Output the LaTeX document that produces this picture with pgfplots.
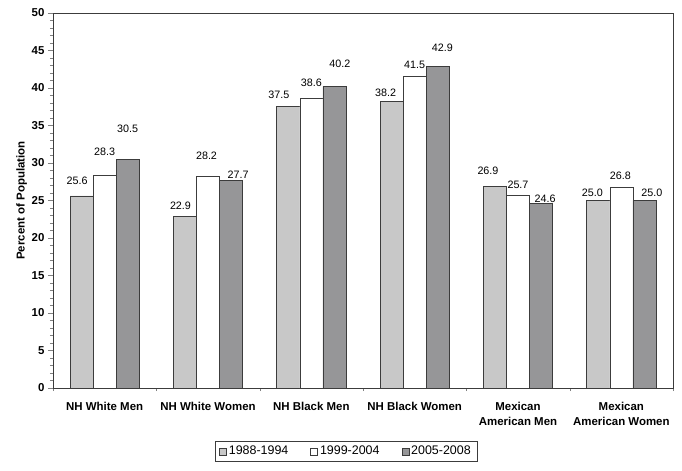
\documentclass[border=0pt]{standalone}
\usepackage{pgfplots}
\pgfplotsset{compat=1.18}
\usetikzlibrary{calc}
\usepackage{fontspec}
\setmainfont{Liberation Sans}
\definecolor{lightbar}{RGB}{200,200,200}
\definecolor{darkbar}{RGB}{150,150,152}
\definecolor{edge}{RGB}{60,60,60}
\begin{document}
\begin{tikzpicture}
  \begin{axis}[
      ybar=0pt,
      scale only axis,
      width=620bp,
      height=375bp,
      bar width=0.223,
      xmin=-0.5, xmax=5.5,
      ymin=0, ymax=50,
      xtick={0,...,5},
      xticklabels={NH White Men, NH White Women, NH Black Men, NH Black Women, Mexican\\American Men, Mexican\\American Women},
      xticklabel style={font=\bfseries\fontsize{11.5}{14.5}\selectfont, align=center, yshift=-6bp},
      major x tick style={draw=none},
      minor xtick={-0.5,0.5,...,5.5},
      ytick={0,5,...,50},
      minor y tick num=4,
      yticklabel style={font=\bfseries\fontsize{11.5}{13}\selectfont},
      /pgf/number format/assume math mode=true,
      tick align=outside,
      xtick pos=bottom, ytick pos=left,
      major tick length=5bp, minor tick length=3bp,
      tick style={gray},
      axis line style={edge},
      ylabel={Percent of Population},
      ylabel style={font=\bfseries\fontsize{11.5}{13}\selectfont, yshift=-2bp},
      nodes near coords,
      nodes near coords style={font=\fontsize{10.8}{12}\selectfont, /pgf/number format/fixed, /pgf/number format/fixed zerofill, /pgf/number format/precision=1, /pgf/number format/assume math mode=true},
      legend style={at={(0.5,-0.169)}, anchor=center, xshift=-17bp, legend columns=-1, draw=edge, font=\fontsize{12.5}{14}\selectfont, inner ysep=3bp, inner xsep=4bp, /tikz/every even column/.append style={column sep=20bp}},
      legend image code/.code={\draw[#1] (0bp,-3.5bp) rectangle (7bp,3.5bp);},
      every axis plot/.append style={draw=edge, line width=0.6pt},
    ]
    \addplot[fill=lightbar,
      coordinate style/.condition={x==0}{xshift=-4.5pt, yshift=7.5pt},
      coordinate style/.condition={x==1}{xshift=-4.5pt, yshift=3.5pt},
      coordinate style/.condition={x==2}{xshift=-9.5pt, yshift=4.5pt},
      coordinate style/.condition={x==3}{xshift=-6pt, yshift=1.5pt},
      coordinate style/.condition={x==4}{xshift=-7pt, yshift=8.5pt},
      coordinate style/.condition={x==5}{xshift=-6pt, yshift=-0.2pt},
    ] coordinates {(0,25.6) (1,22.9) (2,37.5) (3,38.2) (4,26.9) (5,25.0)};
    \addplot[fill=white,
      coordinate style/.condition={x==0}{yshift=16.5pt},
      coordinate style/.condition={x==1}{xshift=-1.5pt, yshift=13.5pt},
      coordinate style/.condition={x==2}{yshift=8.5pt},
      coordinate style/.condition={x==3}{yshift=4.5pt},
      coordinate style/.condition={x==4}{yshift=3.2pt},
      coordinate style/.condition={x==5}{xshift=-1pt, yshift=4.2pt},
    ] coordinates {(0,28.3) (1,28.2) (2,38.6) (3,41.5) (4,25.7) (5,26.8)};
    \addplot[fill=darkbar,
      coordinate style/.condition={x==0}{yshift=23.5pt},
      coordinate style/.condition={x==1}{xshift=7pt, yshift=-1.5pt},
      coordinate style/.condition={x==2}{xshift=5.5pt, yshift=15.5pt},
      coordinate style/.condition={x==3}{xshift=4.7pt, yshift=11.5pt},
      coordinate style/.condition={x==4}{xshift=4pt, yshift=-2.5pt},
      coordinate style/.condition={x==5}{xshift=7.5pt, yshift=-0.2pt},
    ] coordinates {(0,30.5) (1,27.7) (2,40.2) (3,42.9) (4,24.6) (5,25.0)};
    \legend{1988-1994, 1999-2004, 2005-2008}
  \end{axis}
  \pgfresetboundingbox
  \path[use as bounding box] ($(current axis.south west)+(-53bp,-83bp)$) rectangle ($(current axis.north east)+(9bp,13bp)$);
\end{tikzpicture}
\end{document}
